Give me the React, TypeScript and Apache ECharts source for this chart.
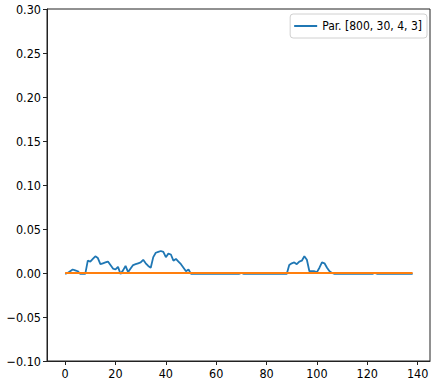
import React, { useEffect, useRef } from "react";
import * as echarts from "echarts";

const seriesName = "Par. [800, 30, 4, 3]";

const blueValues: number[] = [
  -0.001, 0.0, 0.002, 0.004, 0.003, 0.002, -0.001, -0.001, -0.001, 0.014,
  0.013, 0.016, 0.019, 0.017, 0.01, 0.011, 0.012, 0.013, 0.009, 0.005,
  0.004, 0.007, -0.001, 0.003, 0.008, 0.001, 0.005, 0.009, 0.01, 0.011,
  0.012, 0.015, 0.011, 0.008, 0.006, 0.018, 0.023, 0.024, 0.025, 0.024,
  0.018, 0.022, 0.021, 0.014, 0.016, 0.013, 0.01, 0.006, 0.002, 0.004,
  -0.001, -0.001, -0.001, -0.001, -0.001, -0.001, -0.001, -0.001, -0.001, -0.001,
  -0.001, -0.001, -0.001, -0.001, -0.001, -0.001, -0.001, -0.001, -0.001, -0.001,
  0.0, -0.001, -0.001, -0.001, -0.001, -0.001, -0.001, -0.001, -0.001, -0.001,
  -0.001, -0.001, -0.001, -0.001, -0.001, -0.001, -0.001, -0.001, -0.001, 0.009,
  0.011, 0.012, 0.01, 0.013, 0.014, 0.019, 0.015, 0.002, 0.002, 0.002,
  0.001, 0.006, 0.012, 0.011, 0.006, 0.002, 0.0, -0.001, -0.001, -0.001,
  -0.001, -0.001, -0.001, -0.001, -0.001, -0.001, -0.001, -0.001, -0.001, -0.001,
  -0.001, -0.001, -0.001, 0.0, -0.001, -0.001, -0.001, -0.001, -0.001, -0.001,
  -0.001, -0.001, -0.001, -0.001, -0.001, -0.001, -0.001, -0.001, -0.001,
];

const orangeValues: number[] = blueValues.map(() => 0);

const xTicks: number[] = [0, 20, 40, 60, 80, 100, 120, 140];

export default function App() {
  const ref = useRef<HTMLDivElement>(null);
  useEffect(() => {
    if (!ref.current) return;
    const chart = echarts.init(ref.current, null, { renderer: "svg" });
    const font = "'DejaVu Sans Condensed', 'DejaVu Sans', sans-serif";
    const fmtY = (v: number) => {
      const s = (Math.round(v * 100) / 100).toFixed(2);
      return s.replace("-", "\u2212");
    };
    chart.setOption({
      animation: false,
      backgroundColor: "#fff",
      grid: {
        left: 47,
        right: 6,
        top: 9,
        bottom: 31,
        show: true,
        borderColor: "#222",
        borderWidth: 1,
        backgroundColor: "transparent",
      },
      legend: {
        data: [{ name: seriesName }],
        right: 9,
        top: 14,
        icon: "rect",
        itemWidth: 23,
        itemHeight: 2,
        itemGap: 8,
        padding: [6, 5, 6, 4],
        borderColor: "#d0d0d0",
        borderWidth: 1,
        borderRadius: 3,
        backgroundColor: "#fff",
        textStyle: { fontFamily: font, fontSize: 12, color: "#000" },
      },
      xAxis: {
        type: "value",
        min: -7.2,
        max: 144.9,
        splitLine: { show: false },
        axisLine: { show: true, onZero: false, lineStyle: { color: "#222" } },
        axisTick: {
          show: true,
          length: 4,
          customValues: xTicks,
          lineStyle: { color: "#222" },
        },
        axisLabel: {
          customValues: xTicks,
          fontFamily: font,
          fontSize: 12.5,
          color: "#000",
          margin: 6,
        },
      },
      yAxis: {
        type: "value",
        min: -0.1,
        max: 0.3,
        interval: 0.05,
        splitLine: { show: false },
        axisLine: { show: true, onZero: false, lineStyle: { color: "#222" } },
        axisTick: { show: true, length: 4, lineStyle: { color: "#222" } },
        axisLabel: {
          fontFamily: font,
          fontSize: 12.5,
          color: "#000",
          margin: 6,
          formatter: fmtY,
        },
      },
      series: [
        {
          name: seriesName,
          type: "line",
          data: blueValues.map((v, i) => [i, v]),
          showSymbol: false,
          symbol: "none",
          lineStyle: { color: "#1f77b4", width: 1.8 },
          itemStyle: { color: "#1f77b4" },
          z: 2,
        },
        {
          name: "baseline",
          type: "line",
          data: orangeValues.map((v, i) => [i, v]),
          showSymbol: false,
          symbol: "none",
          lineStyle: { color: "#ff7f0e", width: 2 },
          itemStyle: { color: "#ff7f0e" },
          z: 3,
        },
      ],
    });
    return () => chart.dispose();
  }, []);
  return (
    <div
      ref={ref}
      style={{ width: 436, height: 392, position: "fixed", left: 0, top: 0 }}
    />
  );
}
